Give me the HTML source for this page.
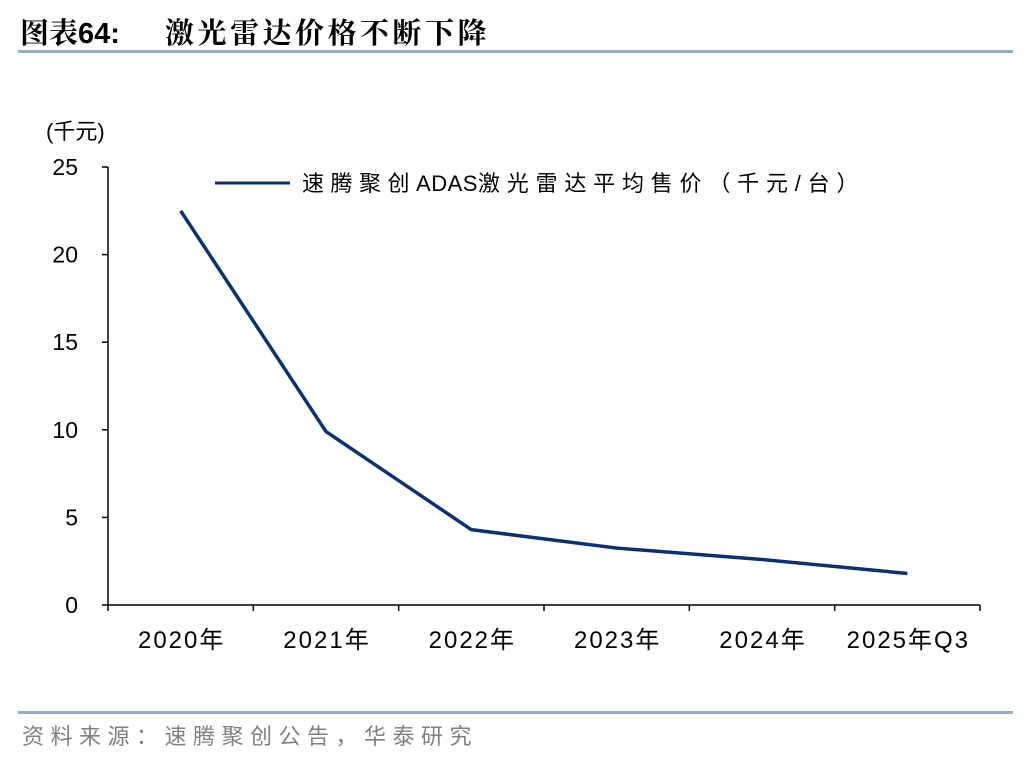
<!DOCTYPE html>
<html><head><meta charset="utf-8"><style>
body{margin:0;width:1036px;height:760px;background:#fff;overflow:hidden;font-family:"Liberation Sans","Noto Sans CJK SC",sans-serif;}
</style></head><body>
<svg width="1036" height="760" xmlns="http://www.w3.org/2000/svg">
<text x="20" y="43" font-size="29" font-weight="bold" font-family="'Liberation Sans','Noto Serif CJK SC',serif">图表64:<tspan x="165" letter-spacing="3.5">激光雷达价格不断下降</tspan></text>
<rect x="18" y="50" width="995" height="3" fill="#95adc8"/>
<text x="46" y="139" font-size="22">(千元)</text>
<g id="axes"></g>
<line x1="215" y1="183" x2="290" y2="183" stroke="#0b3170" stroke-width="3"/>
<text x="302" y="191" font-size="22"><tspan letter-spacing="6.5">速腾聚创</tspan><tspan letter-spacing="0.5">ADAS</tspan><tspan letter-spacing="6.8">激光雷达平均售价（千元/台）</tspan></text>
<rect x="18" y="711" width="995" height="3" fill="#95adc8"/>
<text x="22" y="744" font-size="22" fill="#7f7f7f" letter-spacing="6.5">资料来源：速腾聚创公告，华泰研究</text>
</svg>
<script>
const categories=["2020年","2021年","2022年","2023年","2024年","2025年Q3"];
const priceValues=[22.5,9.9,4.3,3.25,2.6,1.8];
const yTicks=[0,5,10,15,20,25];
const NS="http://www.w3.org/2000/svg";
const g=document.getElementById("axes");
const x0=108,x1=980,y0=605,y1=167;
const band=(x1-x0)/categories.length;
const xs=i=>x0+band*(i+0.5);
const ys=v=>y0-(v/25)*(y0-y1);
function mk(t,a){const e=document.createElementNS(NS,t);for(const k in a)e.setAttribute(k,a[k]);g.appendChild(e);return e;}
let e=mk("line",{x1:x0,y1:y1,x2:x0,y2:y0,stroke:"#000","stroke-width":1.5});


e=mk("line",{x1:x0,y1:y0,x2:x1,y2:y0,stroke:"#000","stroke-width":1.5});


yTicks.forEach(v=>{
 const y=ys(v);
 let t=mk("line",{x1:x0-6,y1:y,x2:x0,y2:y,stroke:"#000","stroke-width":1.5});
 
 
 let l=mk("text",{x:x0-30,y:y+8,"font-size":23,"text-anchor":"end"});
 l.textContent=v;
 
 
});
for(let i=0;i<=categories.length;i++){
 let t=mk("line",{x1:x0+band*i,y1:y0,x2:x0+band*i,y2:y0+6,stroke:"#000","stroke-width":1.5});
 
 
}
categories.forEach((c,i)=>{
 let l=mk("text",{x:xs(i)+1,y:648,"font-size":24,"letter-spacing":2,"text-anchor":"middle"});
 l.textContent=c;
 
 
});
const p=mk("polyline",{points:priceValues.map((v,i)=>xs(i)+","+ys(v)).join(" "),fill:"none",stroke:"#0b3170","stroke-width":3.5,"stroke-linejoin":"round"});


</script>
</body></html>
